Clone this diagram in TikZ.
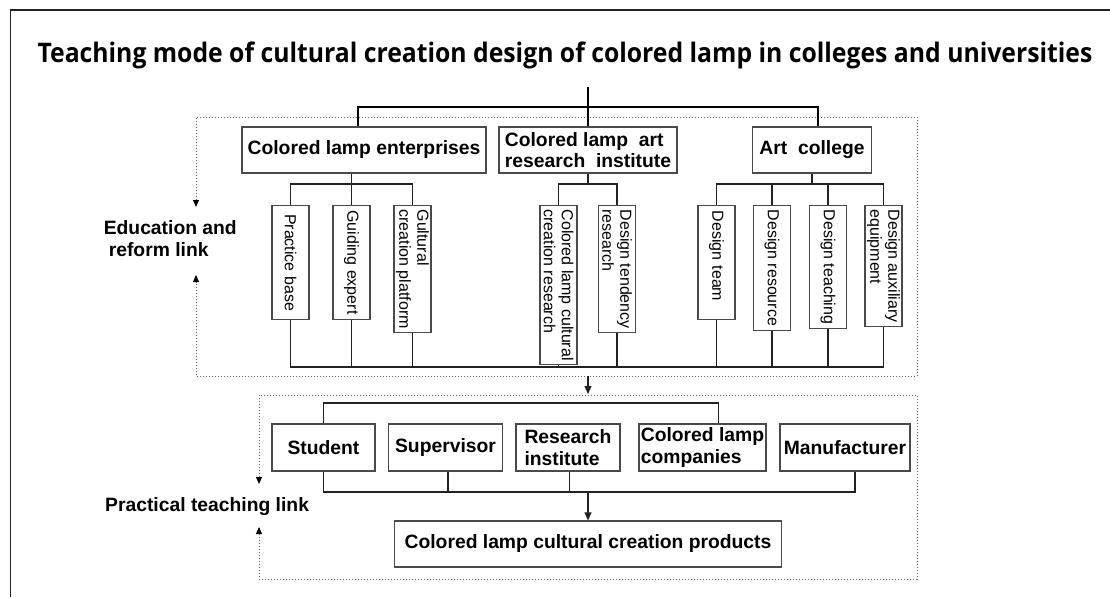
\documentclass[tikz,border=0pt]{standalone}
\usepackage{fontspec}
\usepackage{graphicx}
\setmainfont{Liberation Sans}
\newfontfamily\titlefont{Open Sans}
\usetikzlibrary{arrows.meta}
\definecolor{ink}{HTML}{222222}
\definecolor{edge}{HTML}{4A4A4A}
\definecolor{dots}{HTML}{666666}
\tikzset{
  conn/.style={draw=ink, line width=1.1pt},
  trunk/.style={draw=black, line width=2.4pt},
  hbox/.style={draw=edge, line width=1.2pt, inner sep=0pt, align=left,
    font=\bfseries\fontsize{19.3}{21.5}\selectfont},
  vbox/.style={draw=edge, line width=1.1pt, rotate=-90, anchor=west,
    inner xsep=4pt, inner ysep=0pt, minimum height=37pt, minimum width=#1,
    align=left, font=\fontsize{16}{18}\selectfont},
  dotbox/.style={draw=dots, line width=1pt, dash pattern=on 1pt off 2pt},
  tip/.style={-{Triangle[length=8pt,width=7pt]}},
  smalltips/.style={{Triangle[length=7pt,width=6pt,color=black]}-{Triangle[length=7pt,width=6pt,color=black]}},
  sidetext/.style={font=\bfseries\fontsize{19.3}{21.5}\selectfont, align=left,
    anchor=west, inner sep=0pt},
}
\begin{document}
\begin{tikzpicture}[x=1pt,y=-1pt]
\useasboundingbox (0,0) rectangle (1110,597);

% frame edges
\draw[draw=ink, line width=1.2pt] (10.7,597) -- (10.7,10) -- (1110,10);

% title
\node[anchor=base, inner sep=0pt] (title) at (565,62)
  {\resizebox{1055pt}{20.6pt}{\titlefont\bfseries\fontsize{27}{30}\selectfont
   Teaching mode of cultural creation design of colored lamp in colleges and universities}};

% dotted frames of the two links
\draw[dotbox, smalltips] (196,207) -- (196,117) -- (917,117) -- (917,376) -- (196,376) -- (196,275);
\draw[dotbox, smalltips] (259,484) -- (259,395) -- (917,395) -- (917,579) -- (259,579) -- (259,527);

\node[sidetext] (edu) at (103.6,238.5) {Education and\\\hspace*{5pt}reform link};
\node[sidetext] (ptl) at (105,507) {Practical teaching link};

% first level
\node[hbox, minimum width=244pt, minimum height=46pt] (ent) at (364,150) {Colored lamp enterprises};
\node[hbox, minimum width=178pt, minimum height=46pt] (inst) at (588,150) {Colored lamp~ art\\research~ institute};
\node[hbox, minimum width=119.5pt, minimum height=46pt] (art) at (812,150) {Art~ college};

% second level (vertical text)
\node[vbox=114pt] (pb)  at (290.5,205) {Practice base};
\node[vbox=114pt] (ge)  at (351.5,205) {Guiding expert};
\node[vbox=125pt] (gcp) at (412.5,205) {Gultural\\creation platform};
\node[vbox=158pt] (clc) at (558.5,205) {Colored lamp cultural\\creation research};
\node[vbox=125pt] (dtr) at (617,205)   {Design tendency\\research};
\node[vbox=114pt, text width=104pt] (dt) at (716.5,205) {Design team};
\node[vbox=123pt] (dr)  at (772,205)   {Design resource};
\node[vbox=121pt] (dtc) at (828,205)   {Design teaching};
\node[vbox=121pt] (dae) at (883.5,205) {Design auxiliary\\equipment};

% trunk
\coordinate (root) at (588,87);
\coordinate (trunkY) at (0,107);
\draw[trunk] (root) -- (root |- trunkY);
\draw[trunk] ([xshift=-6pt]ent.north) -- ([xshift=-6pt]ent.north |- trunkY) -| ([xshift=6pt]art.north);
\draw[trunk] (inst.north) -- (inst.north |- trunkY);

% branches to second level
\coordinate (sub) at (0,184);
\draw[conn] (ge.west |- ent.south) -- (ge.west |- sub);
\draw[conn] (pb.west) -- (pb.west |- sub) -| (gcp.west);
\draw[conn] (ge.west |- sub) -- (ge.west);
\draw[conn] (inst.south) -- (inst.south |- sub);
\draw[conn] (clc.west) -- (clc.west |- sub) -| (dtr.west);
\draw[conn] (art.south) -- (art.south |- sub);
\draw[conn] (dt.west) -- (dt.west |- sub) -| (dae.west);
\draw[conn] (dr.west) -- (dr.west |- sub);
\draw[conn] (dtc.west) -- (dtc.west |- sub);

% gathering line
\coordinate (low) at (0,367);
\draw[conn] (pb.east) -- (pb.east |- low) -| (dae.east);
\foreach \n in {ge,gcp,clc,dtr,dt,dr,dtc}
  \draw[conn] (\n.east) -- (\n.east |- low);

% link between the two parts
\coordinate (gapT) at (588,376);
\coordinate (gapB) at (588,394);
\draw[conn, tip] (gapT) -- (gapB);

% practical teaching link
\node[hbox, minimum width=103pt, minimum height=47pt] (stu)  at (323.5,447.5) {Student};
\node[hbox, minimum width=114pt, minimum height=47pt] (sup)  at (445.5,447.5) {Supervisor};
\node[hbox, minimum width=104pt, minimum height=47pt] (res)  at (568,447.5)   {Research\\institute};
\node[hbox, minimum width=127pt, minimum height=47pt] (comp) at (702.5,447.5) {Colored lamp\\companies};
\node[hbox, minimum width=130pt, minimum height=47pt] (man)  at (845,447.5)   {Manufacturer};
\node[hbox, minimum width=387pt, minimum height=46pt] (prod) at (588,544)     {Colored lamp cultural creation products};

\coordinate (busT) at (0,403);
\coordinate (busB) at (0,492);
\draw[conn] (stu.north) -- (stu.north |- busT) -| ([xshift=16pt]comp.north);
\draw[conn] (stu.south) -- (stu.south |- busB) -| ([xshift=10pt]man.south);
\draw[conn] ([xshift=2.5pt]sup.south) -- ([xshift=2.5pt]sup.south |- busB);
\draw[conn] ([xshift=1.5pt]res.south) -- ([xshift=1.5pt]res.south |- busB);
\draw[conn, tip] (prod.north |- busB) -- (prod.north);
\end{tikzpicture}
\end{document}
